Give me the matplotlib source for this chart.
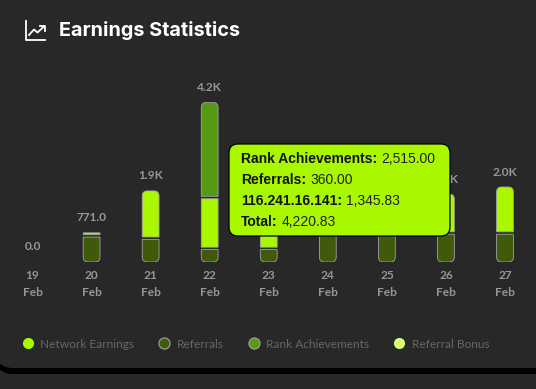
import matplotlib
matplotlib.use('Agg')
import matplotlib.pyplot as plt
from matplotlib.lines import Line2D
from matplotlib.patches import FancyBboxPatch, PathPatch
from matplotlib.path import Path

days = ['19', '20', '21', '22', '23', '24', '25', '26', '27']
month = 'Feb'
referrals = [0, 690, 630, 360, 360, 1000, 980, 767, 767]
network_earnings = [0, 81, 1250, 1345.83, 1290, 0, 0, 1030, 1217]
rank_achievements = [0, 0, 0, 2515, 0, 0, 0, 0, 0]
referral_bonus = [0, 0, 0, 0, 0, 0, 0, 0, 0]
# подписи 23-25 в оригинале закрыты подсказкой
show_total = [True, True, True, True, False, False, False, True, True]

series_names = ['Network Earnings', 'Referrals', 'Rank Achievements', 'Referral Bonus']
tooltip_rows = [('Rank Achievements:', '2,515.00'),
                ('Referrals:', '360.00'),
                ('116.241.16.141:', '1,345.83'),
                ('Total:', '4,220.83')]

BG = '#282828'
LIME = '#aaf800'
DARK = '#3f5a0a'
MID = '#579a12'
PALE = '#dcff7a'
EDGE = '#a3a3a3'
GREY = '#96969c'


def fmt_total(v):
    if v >= 1000:
        return f'{v / 1000:.1f}K'
    return f'{v:.1f}'


def seg_path(x, y0, y1, w, rx, ry, top, bottom):
    l, r = x - w / 2, x + w / 2
    rt = ry if top else 0
    rb = ry if bottom else 0
    rxt = rx if top else 0
    rxb = rx if bottom else 0
    verts = [(l, y0 + rb), (l, y1 - rt), (l, y1), (l + rxt, y1), (r - rxt, y1),
             (r, y1), (r, y1 - rt), (r, y0 + rb), (r, y0), (r - rxb, y0),
             (l + rxb, y0), (l, y0), (l, y0 + rb)]
    codes = [Path.MOVETO, Path.LINETO, Path.CURVE3, Path.CURVE3, Path.LINETO,
             Path.CURVE3, Path.CURVE3, Path.LINETO, Path.CURVE3, Path.CURVE3,
             Path.LINETO, Path.CURVE3, Path.CURVE3]
    return Path(verts, codes)


fig = plt.figure(figsize=(5.36, 3.89), dpi=100, facecolor=BG)

# фон карточки и заголовок
back = fig.add_axes([0, 0, 1, 1], zorder=0)
back.set_xlim(0, 536)
back.set_ylim(389, 0)
back.axis('off')
back.add_patch(FancyBboxPatch((-4, -20), 600, 394, boxstyle='round,pad=0,rounding_size=17',
                              fc='black', ec='none'))
back.add_patch(FancyBboxPatch((-4, -20), 600, 388, boxstyle='round,pad=0,rounding_size=17',
                              fc=BG, ec='none'))
back.plot([25.5, 25.5, 44.5], [21, 40, 40], color='white', lw=1.3)
back.plot([29, 34, 37.5, 44], [35, 29.5, 32.5, 26.5], color='white', lw=1.3)
back.plot([40, 44.5, 44.5], [26, 26, 30.5], color='white', lw=1.3)
back.text(59, 30.5, 'Earnings Statistics', color='white', family='Inter',
          fontweight='bold', fontsize=14.3, va='center', ha='left')

# столбцы
ax = fig.add_axes([3 / 536, (389 - 262) / 389, 531.5 / 536, 202 / 389], zorder=1)
ax.set_facecolor('none')
ax.set_xlim(-0.5, 8.5)
ax.set_ylim(0, 5344)
for s in ax.spines.values():
    s.set_visible(False)
ax.yaxis.set_visible(False)

px_x = 531.5 / 9
px_y = 202 / 5344
bar_w = 16.8 / px_x
gap = 1.2 / px_y
for i in range(len(days)):
    parts = [(referrals[i], DARK), (network_earnings[i], LIME),
             (rank_achievements[i], MID), (referral_bonus[i], PALE)]
    parts = [p for p in parts if p[0] > 0]
    start = 0
    for j, (val, col) in enumerate(parts):
        p = seg_path(i, start + (gap if j > 0 else 0), start + val - (gap if j < len(parts) - 1 else 0),
                     bar_w, 5 / px_x, 5 / px_y, j == len(parts) - 1 and val > 300, j == 0)
        ax.add_patch(PathPatch(p, fc=col, ec=EDGE, lw=0.6))
        start += val
    if show_total[i]:
        ax.annotate(fmt_total(start), (i, start), xytext=(0, 15 / 100 * 72),
                    textcoords='offset points', ha='center', va='center',
                    color=GREY, family='Lato', fontweight='bold', fontsize=8.6)

ax.set_xticks(range(len(days)))
ax.set_xticklabels([d + '\n' + month for d in days], color=GREY, family='Lato',
                   fontweight='bold', fontsize=8.6, linespacing=1.7)
ax.tick_params(axis='x', length=0, pad=5.5)

# легенда
handles = []
for col, ec in zip([LIME, DARK, MID, PALE], ['none', EDGE, EDGE, 'none']):
    handles.append(Line2D([], [], ls='none', marker='o', ms=8, mfc=col, mec=ec, mew=0.8))
leg = fig.legend(handles, series_names, loc='center left', bbox_to_anchor=(22.5 / 536, 1 - 344 / 389),
                 ncol=4, frameon=False, prop={'family': 'Lato', 'size': 8.6},
                 labelcolor='#66666c', handlelength=0.9, handletextpad=0.6,
                 columnspacing=2.05, borderpad=0, borderaxespad=0)

# подсказка поверх столбцов
top = fig.add_axes([0, 0, 1, 1], zorder=5)
top.set_facecolor('none')
top.set_xlim(0, 536)
top.set_ylim(389, 0)
top.axis('off')
top.add_patch(FancyBboxPatch((229, 144), 221, 92, boxstyle='round,pad=0,rounding_size=9',
                             fc=LIME, ec='black', lw=0.9))
rend = fig.canvas.get_renderer()
for k, (name, val) in enumerate(tooltip_rows):
    y = 158.5 + 21 * k
    t = top.text(241, y, name, family='Liberation Sans', fontweight='bold', fontsize=10,
                 color='#111111', va='center', ha='left')
    bb = t.get_window_extent(rend)
    top.text(bb.x1 + 4, y, val, family='Liberation Sans', fontsize=10,
             color='#222222', va='center', ha='left')

fig.savefig('out.png', dpi=100, facecolor=BG)
